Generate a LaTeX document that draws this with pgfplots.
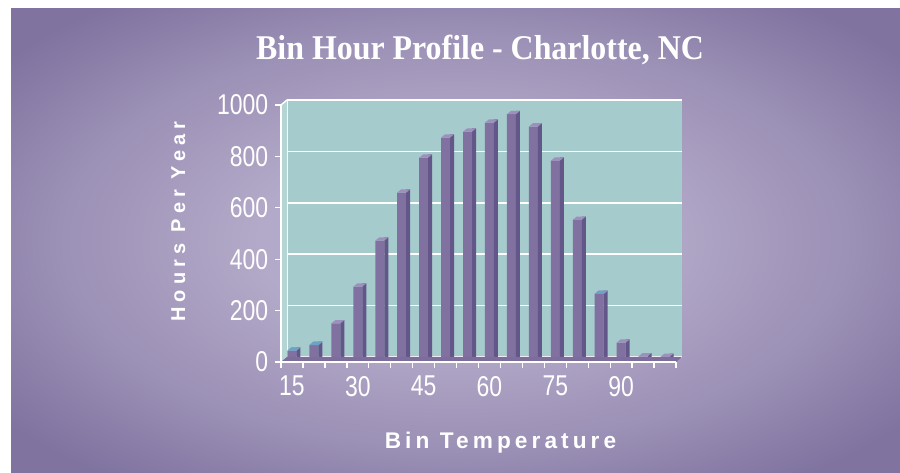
\documentclass[border=0pt]{standalone}
\usepackage{fontspec}
\setmainfont{Liberation Sans}
\newfontfamily\titlefont[FakeStretch=0.92]{Liberation Serif}
\newfontfamily\tickfont[FakeStretch=0.8]{Liberation Sans}
\newfontfamily\labfontx[LetterSpace=18]{Liberation Sans}
\newfontfamily\labfonty[LetterSpace=26]{Liberation Sans}
\usepackage{pgfplots}
\usepackage{pgfplotstable}
\pgfplotsset{compat=1.18}
\definecolor{wallteal}{HTML}{A6CBCC}
\definecolor{sideteal}{HTML}{B5D5D5}
\definecolor{barfront}{HTML}{8071A0}
\definecolor{barside}{HTML}{635689}
\definecolor{bartop}{HTML}{9E90BC}
\definecolor{bluetop}{HTML}{6CA2C4}
\definecolor{floorpurple}{HTML}{7C6D9C}
\definecolor{bglight}{HTML}{B3A9C8}
\definecolor{bgmid}{HTML}{9C91B6}
\definecolor{bgdark}{HTML}{8073A0}
\pgfdeclareradialshading{bgshade}{\pgfpoint{0bp}{0bp}}{color(0bp)=(bglight); color(11bp)=(bglight); color(22bp)=(bgmid); color(32bp)=(bgdark); color(50bp)=(bgdark)}
\pgfdeclareplotmark{topface}{%
  \pgfpathmoveto{\pgfqpoint{-3.375pt}{0pt}}%
  \pgfpathlineto{\pgfqpoint{3.375pt}{0pt}}%
  \pgfpathlineto{\pgfqpoint{6.375pt}{2.5pt}}%
  \pgfpathlineto{\pgfqpoint{-0.375pt}{2.5pt}}%
  \pgfpathclose\pgfusepathqfill}
\pgfplotstableread{
x y
0 44
1 66
2 150
3 293
4 472
5 659
6 795
7 873
8 896
9 931
10 964
11 916
12 783
13 553
14 265
15 75
16 22
17 20
}\bins
\pgfplotstableread{
x y
0 44
1 66
14 265
}\bluetops
\begin{document}
\begin{tikzpicture}
\fill[white] (0pt,0pt) rectangle (675pt,354.75pt);
\shade[shading=bgshade] (8.25pt,0pt) rectangle (675pt,348pt);
% back wall
\begin{axis}[at={(215.25pt,87pt)}, anchor=south west, scale only axis,
  width=296.25pt, height=192.75pt,
  xmin=0, xmax=1, ymin=0, ymax=1000,
  xtick=\empty, ytick={0,200,...,1000}, yticklabels={},
  ymajorgrids, major grid style={white, line width=1.1pt},
  axis x line=none, axis y line*=left,
  y axis line style={white, line width=1.1pt, -},
  major tick length=0pt,
  axis background/.style={fill=wallteal}]
\addplot[draw=none] coordinates {(0,0)};
\end{axis}
% front
\begin{axis}[at={(210.75pt,83.25pt)}, anchor=south west, scale only axis,
  width=296.25pt, height=192.75pt,
  xmin=-0.5, xmax=17.5, ymin=0, ymax=1000, clip=false,
  axis on top,
  axis x line*=bottom, axis y line*=left,
  axis line style={white, line width=1.1pt, -},
  tick style={white, line width=1pt}, tick align=outside,
  major tick length=4.5pt,
  xtick={-0.5,0.5,...,17.5}, xticklabels={},
  extra x ticks={0,3,6,9,12,15}, extra x tick labels={15,30,45,60,75,90},
  extra x tick style={major tick length=0pt},
  ytick={0,200,...,1000}, yticklabels={0,200,400,600,800,1000},
  ticklabel style={font=\tickfont\fontsize{21.5pt}{21.5pt}\selectfont, text=white},
  yticklabel style={anchor=east, inner sep=0pt, xshift=-5pt},
  xticklabel style={anchor=north, inner sep=0pt, yshift=-10.5pt}]
\addplot[fill=sideteal, draw=none] coordinates {(-0.5,0) (-0.5,1000) (-0.2265,1019.46) (-0.2265,19.46)};
\addplot[white, line width=1.1pt] coordinates {(-0.5,1000) (-0.2265,1019.46)};
\addplot[ybar, bar width=6.75pt, fill=barfront, draw=none] table[x=x,y=y] {\bins};
\addplot[ybar, bar width=3pt, bar shift=4.875pt, fill=barside, draw=none, yshift=2.5pt] table[x=x,y=y] {\bins};
\addplot[only marks, color=bartop, mark=topface, mark options={fill=bartop}] table[x=x,y=y] {\bins};
\addplot[only marks, color=bluetop, mark=topface, mark options={fill=bluetop}] table[x=x,y=y] {\bluetops};
\addplot[fill=floorpurple, draw=none] coordinates {(-0.5,0) (17.5,0) (17.7735,19.46) (-0.2265,19.46)};
\end{axis}
\node[anchor=base, text=white, inner sep=0pt] at (360pt,309.75pt) {\titlefont\bfseries\fontsize{26pt}{26pt}\selectfont Bin Hour Profile - Charlotte, NC};
\node[anchor=base, text=white, inner sep=0pt] at (375.4pt,18.2pt) {\labfontx\bfseries\fontsize{17pt}{17pt}\selectfont Bin Temperature};
\node[anchor=base, rotate=90, text=white, inner sep=0pt] at (138.75pt,188.6pt) {\labfonty\bfseries\fontsize{15pt}{15pt}\selectfont Hours Per Year};
\end{tikzpicture}
\end{document}
